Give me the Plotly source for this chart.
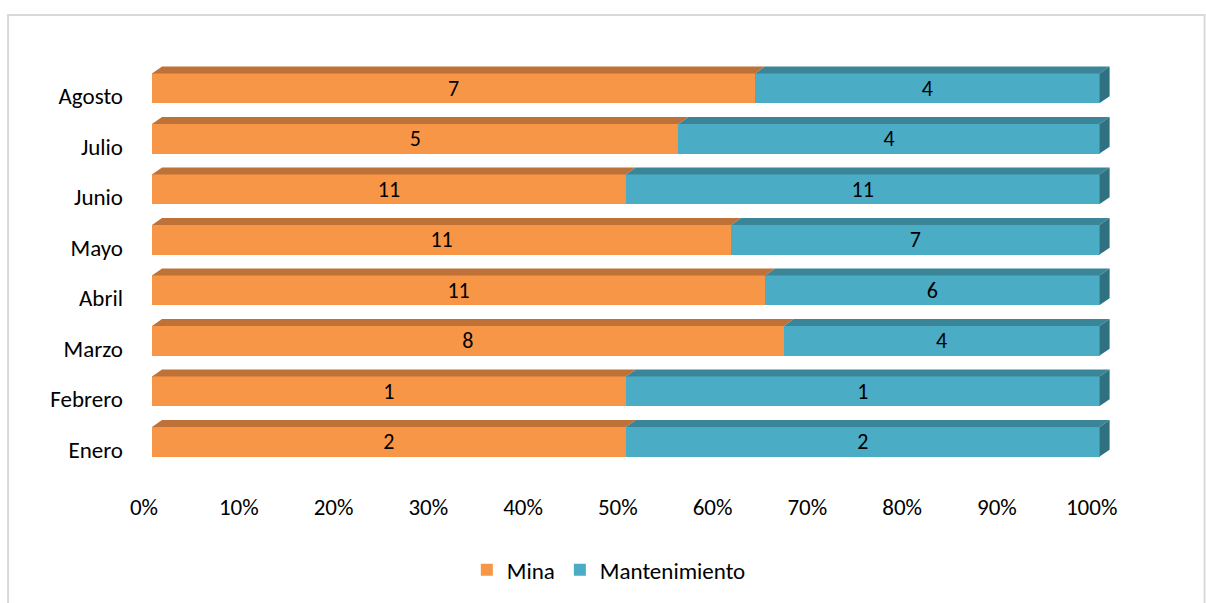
import plotly.graph_objects as go

months = ["Enero", "Febrero", "Marzo", "Abril", "Mayo", "Junio", "Julio", "Agosto"]
mina = [2, 1, 8, 11, 11, 11, 5, 7]
mantenimiento = [2, 1, 4, 6, 7, 11, 4, 4]
tick_pct = [0, 10, 20, 30, 40, 50, 60, 70, 80, 90, 100]

ORANGE, ORANGE_TOP = "#F79646", "#BE7238"
TEAL, TEAL_TOP, TEAL_SIDE = "#4BACC6", "#3B8599", "#2F7181"
FONT = "Carlito, Lato, sans-serif"
FS = 23

W = 1206
H = 603
ML, MT = 152, 62.5
XMAX = 105
px_per_pct = 9.48
MR = W - (ML + XMAX * px_per_pct)
pitch = 51.07
MB = H - (MT + 8 * pitch)

BW = 30 / pitch          # bar thickness in category units
DX = 10 / px_per_pct     # depth offset (x, data units)
DY = 7 / pitch           # depth offset (y, data units)

ypos = list(range(len(months)))
pct_mina = [100 * a / (a + b) for a, b in zip(mina, mantenimiento)]

fig = go.Figure()
fig.add_trace(go.Bar(y=ypos, x=mina, orientation="h", name="Mina",
                     marker=dict(color=ORANGE, line=dict(width=0)),
                     text=mina, textposition="inside", insidetextanchor="middle",
                     constraintext="none",
                     textangle=0, textfont=dict(color="black", size=FS - 1, family=FONT),
                     width=BW, hoverinfo="skip"))
fig.add_trace(go.Bar(y=ypos, x=mantenimiento, orientation="h", name="Mantenimiento",
                     marker=dict(color=TEAL, line=dict(width=0)),
                     text=mantenimiento, textposition="inside", insidetextanchor="middle",
                     constraintext="none",
                     textangle=0, textfont=dict(color="black", size=FS - 1, family=FONT),
                     width=BW, hoverinfo="skip"))

# 3D faces (computed from data)
def poly(xs, ys, color):
    fig.add_trace(go.Scatter(x=xs + [xs[0]], y=ys + [ys[0]], mode="lines", fill="toself",
                             fillcolor=color, line=dict(width=0, color=color),
                             showlegend=False, hoverinfo="skip"))

for i, p in zip(ypos, pct_mina):
    yt = i + BW / 2
    poly([0, p, p + DX, DX], [yt, yt, yt + DY, yt + DY], ORANGE_TOP)
    poly([p, 100, 100 + DX, p + DX], [yt, yt, yt + DY, yt + DY], TEAL_TOP)
    poly([100, 100, 100 + DX, 100 + DX], [i - BW / 2, yt, yt + DY, i - BW / 2 + DY], TEAL_SIDE)

pw = W - ML - MR
ph = H - MT - MB
fig.update_layout(
    width=W, height=H,
    barmode="stack", barnorm="percent",
    margin=dict(l=ML, r=MR, t=MT, b=MB),
    plot_bgcolor="white", paper_bgcolor="white",
    font=dict(family=FONT, size=FS, color="black"),
    showlegend=True,
    legend=dict(orientation="h", x=(609 - ML) / pw, xanchor="center",
                y=(MT + ph - 575) / ph, yanchor="middle",
                font=dict(size=FS, family=FONT), itemwidth=30, traceorder="normal"),
    xaxis=dict(range=[0, XMAX], tickvals=tick_pct, ticktext=[f"{t}%" for t in tick_pct],
               showgrid=False, zeroline=False, showline=False, ticks="",
               ticklabelshift=-8, ticklabelstandoff=24, fixedrange=True),
    yaxis=dict(range=[-0.5, 7.5], tickvals=ypos, ticktext=months,
               showgrid=False, zeroline=False, showline=False, ticks="",
               ticklabelshift=8, ticklabelstandoff=28, fixedrange=True),
    shapes=[dict(type="rect", xref="paper", yref="paper",
                 x0=(8 - ML) / pw, x1=(1205 - ML) / pw,
                 y0=(MT + ph - 610) / ph, y1=(MT + ph - 14) / ph,
                 line=dict(color="#D9D9D9", width=2), fillcolor="rgba(0,0,0,0)", layer="below")],
)

fig.write_html("out.html")
